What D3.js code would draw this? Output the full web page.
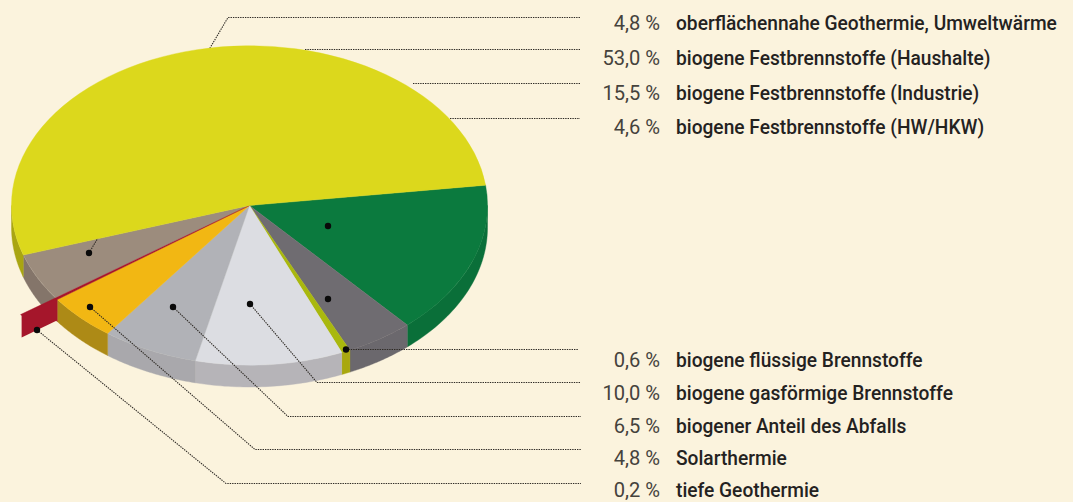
<!DOCTYPE html>
<html><head><meta charset="utf-8">
<script src="https://cdn.jsdelivr.net/npm/d3@7"></script>
<style>html,body{margin:0;padding:0;background:#fbf3dd;overflow:hidden}svg{display:block}</style>
</head><body><svg id="c" width="1073" height="502"></svg>
<script>
const labels = ["oberflächennahe Geothermie, Umweltwärme","biogene Festbrennstoffe (Haushalte)","biogene Festbrennstoffe (Industrie)","biogene Festbrennstoffe (HW/HKW)","biogene flüssige Brennstoffe","biogene gasförmige Brennstoffe","biogener Anteil des Abfalls","Solarthermie","tiefe Geothermie"];
const shares = [4.8,53.0,15.5,4.6,0.6,10.0,6.5,4.8,0.2];
const topColors = ["#9c8c7d","#dcd81c","#0b7a3e","#6f6c71","#a9b80e","#dcdde2","#b1b2b7","#f2b713","#a5162b"];
const sideColors = ["#84756a","#a9a512","#0a6f39","#6b686d","#a9a80e","#b6b4b8","#a9a8ac","#ad8a16","#a5162b"];
// annotation layout (pixels), kept apart from the data
const rowY = [30,65,100,134,367,400,433,465,497];
const leaderPaths = [
 [[89,253],[228,17.5],[580,17.5]],
 [[305,49.5],[580,49.5]],
 [[413,83.5],[580,83.5]],
 [[450,118.5],[580,118.5]],
 [[346,349.5],[578,349.5]],
 [[250,304],[317,382.5],[581,382.5]],
 [[173,307],[288,416.5],[581,416.5]],
 [[90,307],[255,449.5],[581,449.5]],
 [[37,330],[226,483.5],[581,483.5]]
];
const extraDots = [[328,226],[328,299]];
const dotted = [0,4,5,6,7,8];

const W=1073,H=502,cx=249.5,cy=205.5,rx=238,ry=159.5,depth=22,explode=1.18;
const rad=d=>d*Math.PI/180;
const svg=d3.select("#c");
const x=d3.scaleLinear().domain([-1,1]).range([cx-rx,cx+rx]);
const y=d3.scaleLinear().domain([-1,1]).range([cy-ry,cy+ry]);
const pt=(a,r,dz=0)=>[x(r*Math.sin(a)),y(-r*Math.cos(a))+dz];
const arcs=d3.pie().sort(null).startAngle(rad(-125.4)).endAngle(rad(234.6))(shares);
const lineGen=d3.line();
const arcGen=d3.arc().innerRadius(0).outerRadius(1);
const arcPath=(d,r)=>arcGen.outerRadius(r)(d);
const gTop=`translate(${cx},${cy}) scale(${rx},${ry})`;

// side walls
arcs.forEach((d,i)=>{
  const lo=Math.PI/2,hi=3*Math.PI/2;
  [[d.startAngle,d.endAngle],[d.startAngle+2*Math.PI,d.endAngle+2*Math.PI]].forEach(([s,e])=>{
    const p=Math.max(s,lo),q=Math.min(e,hi);
    if(q<=p) return;
    const steps=d3.range(0,41).map(k=>p+(q-p)*k/40);
    const poly=steps.map(a=>pt(a,1)).concat(steps.slice().reverse().map(a=>pt(a,1,depth)));
    svg.append("path").attr("d",lineGen(poly)+"Z").attr("fill",sideColors[i]).attr("stroke",sideColors[i]).attr("stroke-width",.4);
  });
});
// top faces; yellow goes after the first leader so it hides that part
const drawTop=(d,i)=>svg.append("path").attr("transform",gTop).attr("d",arcPath(d,i===8?explode:1))
  .attr("fill",topColors[i]).attr("stroke",topColors[i]).attr("stroke-width",.002);
arcs.forEach((d,i)=>{ if(i!==1) drawTop(d,i); });
const leader=(pts)=>svg.append("path").attr("d",lineGen(pts)).attr("fill","none")
  .attr("stroke","#2e2a25").attr("stroke-width",1.1).attr("stroke-dasharray","1.4 1");
leader(leaderPaths[0]);
drawTop(arcs[1],1);
// exploded red wall
const red=arcs[8],am=(red.startAngle+red.endAngle)/2;
svg.append("path").attr("d",lineGen([pt(am,1),pt(am,explode),pt(am,explode,depth),pt(am,1,depth)])+"Z")
  .attr("fill",topColors[8]);
leaderPaths.slice(1).forEach(leader);
// dots
const dotPts=dotted.map(i=>leaderPaths[i][0]).concat(extraDots);
svg.selectAll("circle").data(dotPts).join("circle")
  .attr("cx",d=>d[0]).attr("cy",d=>d[1]).attr("r",3.2).attr("fill","#0a0a0a");
// legend, condensed to the width of the reference's narrow face
const fmt=v=>v.toFixed(1).replace(".",",")+" %";
const font="Roboto,'Liberation Sans',sans-serif";
const vals=svg.selectAll("text.v").data(shares).join("text").attr("class","v")
  .attr("text-anchor","end").attr("font-family",font).attr("font-size",21).attr("fill","#45423c").text(fmt);
const labs=svg.selectAll("text.l").data(labels).join("text").attr("class","l")
  .attr("font-family",font).attr("font-size",21).attr("font-weight",500).attr("fill","#24221f").text(d=>d);
const k=381/labs.node().getComputedTextLength();
vals.attr("transform",(d,i)=>`translate(660,${rowY[i]}) scale(${k*1.05},1)`);
labs.attr("transform",(d,i)=>`translate(676,${rowY[i]}) scale(${k},1)`);
</script></body></html>
